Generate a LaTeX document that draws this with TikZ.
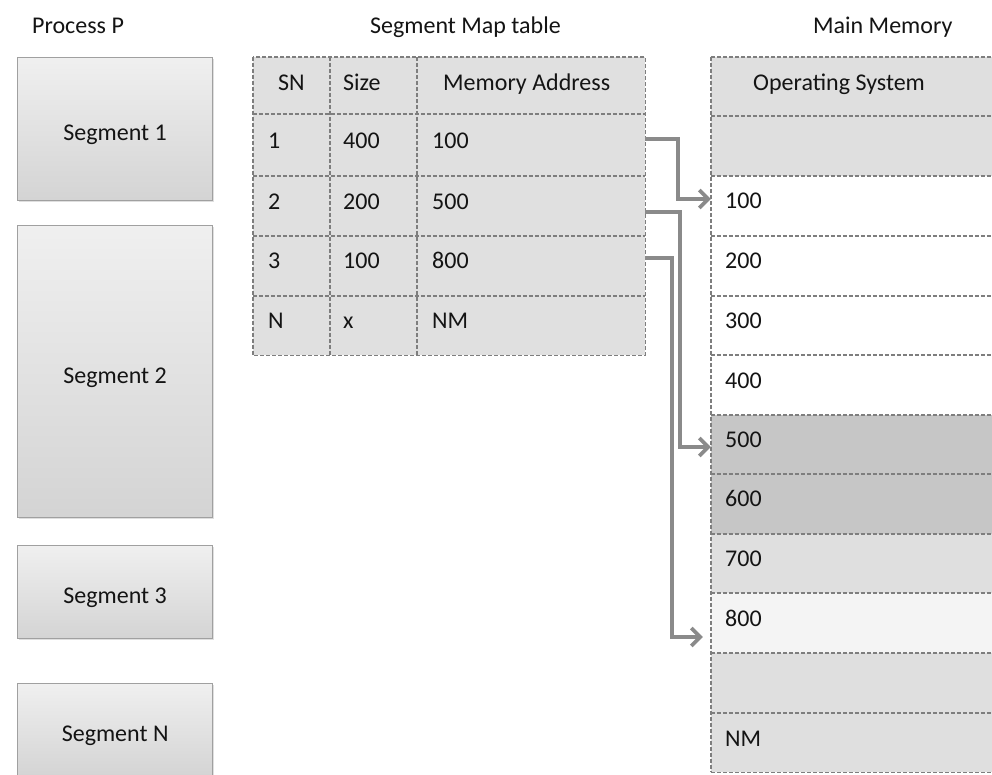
\documentclass[tikz,border=0pt]{standalone}
\usepackage{fontspec}
\setmainfont{Carlito}
\usetikzlibrary{arrows.meta,fit,shadows}

\definecolor{ink}{HTML}{141414}
\definecolor{gridline}{HTML}{7E7E7E}
\definecolor{cellgray}{HTML}{E0E0E0}
\definecolor{memlight}{HTML}{DFDFDF}
\definecolor{memdark}{HTML}{C6C6C6}
\definecolor{mempale}{HTML}{F4F4F4}
\definecolor{boxedge}{HTML}{A0A0A0}
\definecolor{arrowgray}{HTML}{8A8A8A}

\begin{document}
\begin{tikzpicture}[x=1pt,y=-1pt,
  txt/.style={font=\fontsize{24}{28}\selectfont, text=ink, inner sep=0pt},
  segbox/.style={txt, draw=boxedge, line width=1.3pt, anchor=north west,
    minimum width=195pt, text height=23.5pt, text depth=0pt,
    top color=white!94!black, bottom color=white!83!black,
    drop shadow={shadow xshift=1.2pt, shadow yshift=-1.5pt, opacity=0.25}},
  cell/.style={inner sep=0pt, fill=cellgray},
  memcell/.style={inner sep=0pt},
  dashline/.style={draw=gridline, line width=1.4pt, dash pattern=on 4pt off 2pt},
  conn/.style={draw=arrowgray, line width=3.6pt, line join=miter,
    -{Straight Barb[length=9pt,width=18pt]}}
]
\useasboundingbox[fill=white] (0,0) rectangle (992,774);

% ---- column titles
\node[txt, anchor=base west] (ttlproc) at (32,33) {Process P};
\node[txt, anchor=base west] (ttlmap)  at (370,33) {Segment Map table};
\node[txt, anchor=base west] (ttlmem)  at (813,33) {Main Memory};

% ---- segments of process P
\node[segbox, minimum height=143pt] (s1) at (17,57)  {Segment 1};
\node[segbox, minimum height=292pt] (s2) at (17,225) {Segment 2};
\node[segbox, minimum height=93pt]  (s3) at (17,545) {Segment 3};
\node[segbox, minimum height=93pt]  (sn) at (17,683) {Segment N};

% ---- segment map table: cell backgrounds
\foreach \r/\ya/\yb in {0/57/114, 1/114/176, 2/176/236, 3/236/296, 4/296/355}{
  \foreach \c/\xa/\xb in {1/253/330, 2/330/417, 3/417/645}{
    \node[cell, fit={(\xa,\ya) (\xb,\yb)}] (c\r\c) {};
  }
}
% table grid
\draw[dashline] (c01.north west) rectangle (c43.south east);
\foreach \r in {1,2,3,4}{
  \draw[dashline] (c\r1.north west) -- (c\r3.north east);
}
\draw[dashline] (c02.north west) -- (c42.south west);
\draw[dashline] (c03.north west) -- (c43.south west);

% table texts
\node[txt, anchor=base west] (h1) at (278,90) {SN};
\node[txt, anchor=base west] (h2) at (343,90) {Size};
\node[txt, anchor=base west] (h3) at (443,90) {Memory Address};
\foreach \r/\yb/\sn/\sz/\ad in {1/148/1/400/100, 2/209/2/200/500, 3/268/3/100/800, 4/328/N/x/NM}{
  \node[txt, anchor=base west] (t\r1) at (268,\yb) {\sn};
  \node[txt, anchor=base west] (t\r2) at (343,\yb) {\sz};
  \node[txt, anchor=base west] (t\r3) at (432,\yb) {\ad};
}

% ---- main memory
\foreach \r/\ya/\yb/\col in {0/57/116/memlight, 1/116/176/memlight, 2/176/236/white,
    3/236/296/white, 4/296/355/white, 5/355/415/white, 6/415/474/memdark,
    7/474/534/memdark, 8/534/593/memlight, 9/593/653/mempale,
    10/653/713/memlight, 11/713/772/memlight}{
  \node[memcell, fill=\col, fit={(711,\ya) (1000,\yb)}] (m\r) {};
}
\draw[dashline] (m0.north west) -- (m11.south west);
\foreach \r in {0,...,11}{
  \draw[dashline] (m\r.north west) -- (m\r.north east);
}
\draw[dashline] (m11.south west) -- (m11.south east);

\node[txt, anchor=base west] (os) at (753,90) {Operating System};
\foreach \r/\lab/\yb in {2/100/208, 3/200/268, 4/300/328, 5/400/388, 6/500/447,
    7/600/506, 8/700/566, 9/800/626, 11/NM/746}{
  \node[txt, anchor=base west] (v\r) at (725,\yb) {\lab};
}

% ---- table rows to memory locations
\draw[conn] ([yshift=6pt]c13.east)  -- ++(33,0) |- ([yshift=7pt]m2.west);
\draw[conn] ([yshift=-6pt]c23.east) -- ++(35,0) |- ([yshift=-2.5pt]m6.west);
\draw[conn] ([yshift=8pt]c33.east)  -- ++(27,0) |- ([xshift=-8pt,yshift=-14pt]m9.west);
\end{tikzpicture}
\end{document}
